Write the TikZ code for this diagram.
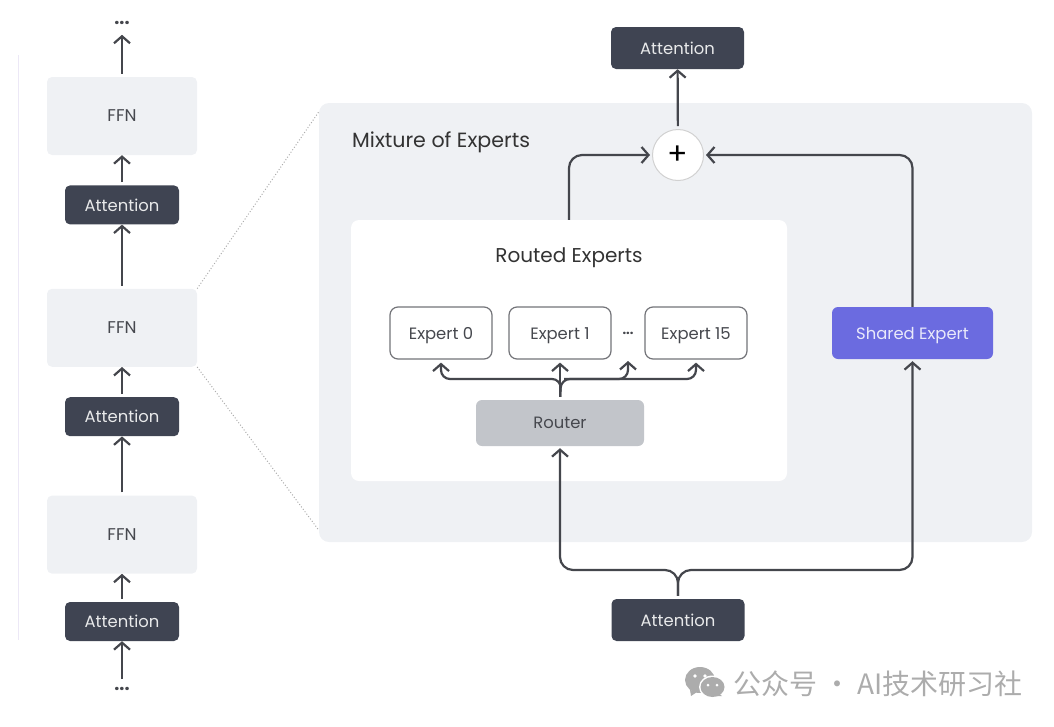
\documentclass[tikz,border=0pt]{standalone}
\usepackage{xcolor}
\usepackage{fontspec}
\setmainfont{Poppins}
\newfontfamily\cjkfont{Noto Sans CJK SC}
\usetikzlibrary{arrows.meta, positioning, shapes.geometric, backgrounds}
\definecolor{inkdark}{RGB}{63,68,82}
\definecolor{inkline}{RGB}{68,70,76}
\definecolor{inktext}{RGB}{70,72,78}
\definecolor{paneltint}{RGB}{239,241,244}
\definecolor{routertint}{RGB}{194,197,202}
\definecolor{sharedtint}{RGB}{107,107,224}
\definecolor{markgray}{RGB}{172,172,172}
\definecolor{edgetint}{RGB}{236,232,246}
\tikzset{
  attn/.style={
    rectangle, rounded corners=5pt, minimum width=114pt, minimum height=39pt,
    inner sep=0pt, fill=inkdark, text=white!88!inkdark, font=\fontsize{16.4}{18}\selectfont
  },
  attnwide/.style={attn, minimum width=133pt, minimum height=42pt},
  ffn/.style={
    rectangle, rounded corners=5pt, minimum width=150pt, minimum height=78pt,
    inner sep=0pt, fill=paneltint, text=inktext, font=\fontsize{17}{18}\selectfont
  },
  expert/.style={
    rectangle, rounded corners=8pt, minimum width=102pt, minimum height=52pt,
    inner sep=0pt, text height=12pt, text depth=0pt, draw=inkline!75, line width=1.2pt,
    fill=white, text=inktext, font=\fontsize{16.4}{18}\selectfont
  },
  dotsnode/.style={inner sep=0pt, text=inkline, font=\fontsize{18}{20}\selectfont\bfseries},
  flow/.style={
    -{Straight Barb[length=7pt,width=16pt,line width=2.2pt]}, line width=2.2pt,
    color=inkline, rounded corners=13pt
  },
  flowsmall/.style={flow, rounded corners=9pt},
  zoomline/.style={dotted, line width=1pt, color=black!32}
}
\begin{document}
\begin{tikzpicture}[x=1pt, y=-1pt]
  \useasboundingbox (0,0) rectangle (1054,726);

  \coordinate (edgetop) at (18,55);
  \coordinate (edgebot) at (18,640);
  \draw[edgetint, line width=1pt] (edgetop) -- (edgebot);

  % left column
  \node[attn] (attn1) at (122,621.5) {Attention};
  \node[ffn, above=28pt of attn1] (ffn1) {FFN};
  \node[attn, above=59pt of ffn1] (attn2) {Attention};
  \node[ffn, above=30pt of attn2] (ffn2) {FFN};
  \node[attn, above=64pt of ffn2] (attn3) {Attention};
  \node[ffn, above=30pt of attn3] (ffn3) {FFN};
  \node[dotsnode, above=52pt of ffn3] (dotstop) {...};
  \node[dotsnode, below=46pt of attn1] (dotsbot) {...};

  \draw[flow, shorten <=8pt] (dotsbot) -- (attn1);
  \draw[flow, shorten <=3pt] (attn1) -- (ffn1);
  \draw[flow, shorten <=3pt] (ffn1) -- (attn2);
  \draw[flow, shorten <=3pt] (attn2) -- (ffn2);
  \draw[flow, shorten <=3pt] (ffn2) -- (attn3);
  \draw[flow, shorten <=3pt] (attn3) -- (ffn3);
  \draw[flow, shorten <=3pt, shorten >=10pt] (ffn3) -- (dotstop);

  % panels
  \node[rectangle, rounded corners=10pt, minimum width=713pt, minimum height=439pt,
        inner sep=0pt, fill=paneltint] (mix) at (675.5,322.5) {};
  \node[rectangle, rounded corners=8pt, minimum width=436pt, minimum height=261pt,
        inner sep=0pt, fill=white] (routed) at (569,350.5) {};
  \node[anchor=west, inner sep=0pt, text depth=0pt, text=black!80, font=\fontsize{20.6}{24}\selectfont]
    (mixlabel) at (352,140) {Mixture of Experts};
  \node[inner sep=0pt, text depth=0pt, text=black!80, font=\fontsize{20}{24}\selectfont]
    (routedlabel) at (569,255) {Routed Experts};

  \draw[zoomline] (ffn2.north east) -- ([yshift=-9pt]mix.north west);
  \draw[zoomline] (ffn2.south east) -- ([yshift=12pt]mix.south west);

  % experts
  \node[expert] (exp0) at (441,333) {Expert 0};
  \node[expert] (exp1) at (560,333) {Expert 1};
  \node[expert] (exp15) at (696,333) {Expert 15};
  \node[dotsnode, font=\fontsize{13}{14}\selectfont\bfseries] (expdots) at (628,333) {...};
  \node[rectangle, rounded corners=6pt, minimum width=168pt, minimum height=46pt,
        inner sep=0pt, fill=routertint, text=inktext, font=\fontsize{16.4}{18}\selectfont]
    (router) at (560,423) {Router};
  \node[rectangle, rounded corners=6pt, minimum width=161pt, minimum height=52pt,
        inner sep=0pt, text depth=0pt, fill=sharedtint, text=white!85!sharedtint,
        font=\fontsize{16.4}{18}\selectfont]
    (shared) at (912.5,333) {Shared Expert};

  \node[circle, minimum size=51pt, inner sep=0pt, draw=black!18, line width=1pt, fill=white,
        font=\fontsize{30}{30}\selectfont] (plus) at (678,155) {\raisebox{-2pt}{+}};
  \node[attnwide] (attntop) at (677.5,48) {Attention};
  \node[attnwide] (attnbot) at (678,620) {Attention};

  \coordinate (splitbot) at (678,570);
  \coordinate (splitexp) at (561,379);
  \coordinate (expdotsin) at (628,361);

  % connectors
  \draw[flow, shorten <=3pt] (plus) -- (attntop);
  \draw[flow, shorten >=2pt] (routed.north) -- (routed.north |- plus) -- (plus);
  \draw[flow, shorten >=2pt] (shared.north) -- (shared.north |- plus) -- (plus);
  \draw[flow, shorten <=3pt, shorten >=2pt] (attnbot.north) -- (splitbot) -| (router.south);
  \draw[flow, shorten <=3pt, shorten >=2pt] (attnbot.north) -- (splitbot) -| (shared.south);
  \draw[flowsmall, shorten <=3pt, shorten >=3pt] (router.north) -- (splitexp) -| (exp0.south);
  \draw[flowsmall, shorten <=3pt, shorten >=3pt] (router.north) -- (exp1.south);
  \draw[flowsmall, shorten <=3pt, shorten >=3pt] (router.north) -- (splitexp) -| (exp15.south);
  \draw[flowsmall, shorten <=3pt] (splitexp) -| (expdotsin);

  % watermark
  \fill[markgray] (700,680) ellipse (15pt and 13pt);
  \fill[markgray] (690,690) -- (697,692) -- (691,696) -- cycle;
  \fill[white] (712.5,687) ellipse (13.5pt and 11.5pt);
  \fill[markgray] (712.5,687) ellipse (12pt and 10pt);
  \fill[markgray] (718,693) -- (722,696) -- (715,696) -- cycle;
  \fill[white] (695,676) circle (1.8pt) (705,676) circle (1.8pt);
  \fill[white] (708,685) circle (1.5pt) (717,685) circle (1.5pt);
  \node[anchor=west, inner sep=0pt, text=markgray, font=\cjkfont\fontsize{28}{30}\selectfont]
    (mark) at (733,684) {公众号 · AI技术研习社};
\end{tikzpicture}
\end{document}
